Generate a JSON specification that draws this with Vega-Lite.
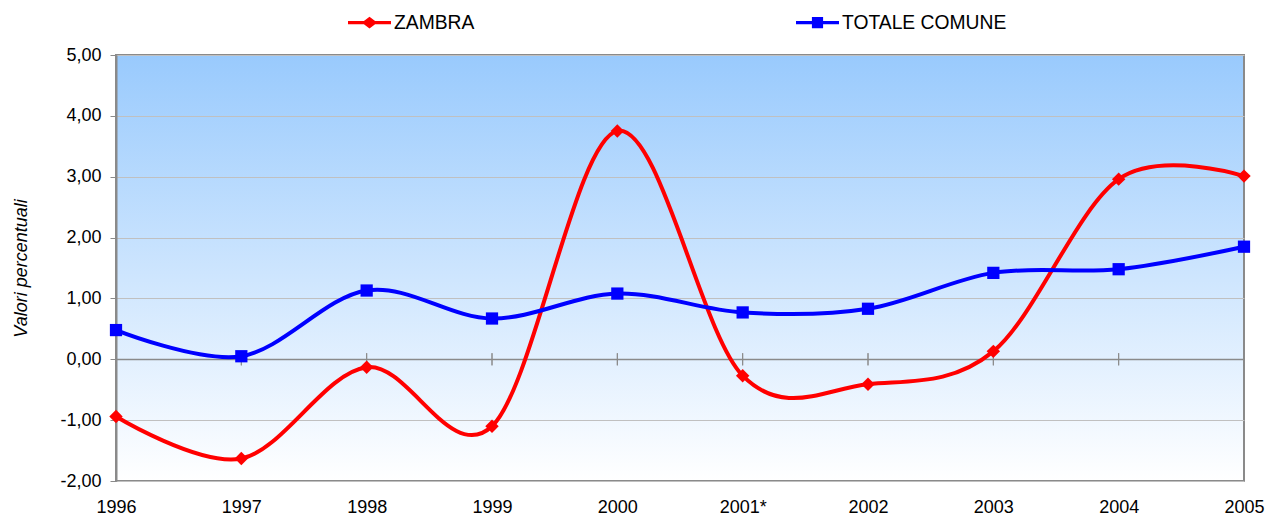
{
  "$schema": "https://vega.github.io/schema/vega-lite/v6.json",
  "autosize": {"type": "none"},
  "width": 1128,
  "height": 426,
  "padding": {"left": 116, "top": 55, "right": 25, "bottom": 36},
  "background": "white",
  "config": {
    "font": "Liberation Sans",
    "view": {
      "stroke": "#8a8a8a",
      "strokeWidth": 2,
      "fill": {
        "gradient": "linear",
        "x1": 0, "y1": 0, "x2": 0, "y2": 1,
        "stops": [
          {"offset": 0, "color": "#99CAFD"},
          {"offset": 1, "color": "#FFFFFF"}
        ]
      }
    }
  },
  "data": {
    "values": [
      {"year": "1996", "series": "ZAMBRA", "value": -0.94},
      {"year": "1997", "series": "ZAMBRA", "value": -1.63},
      {"year": "1998", "series": "ZAMBRA", "value": -0.13},
      {"year": "1999", "series": "ZAMBRA", "value": -1.10},
      {"year": "2000", "series": "ZAMBRA", "value": 3.75},
      {"year": "2001*", "series": "ZAMBRA", "value": -0.27},
      {"year": "2002", "series": "ZAMBRA", "value": -0.41},
      {"year": "2003", "series": "ZAMBRA", "value": 0.13},
      {"year": "2004", "series": "ZAMBRA", "value": 2.96},
      {"year": "2005", "series": "ZAMBRA", "value": 3.01},
      {"year": "1996", "series": "TOTALE COMUNE", "value": 0.48},
      {"year": "1997", "series": "TOTALE COMUNE", "value": 0.05},
      {"year": "1998", "series": "TOTALE COMUNE", "value": 1.13},
      {"year": "1999", "series": "TOTALE COMUNE", "value": 0.67},
      {"year": "2000", "series": "TOTALE COMUNE", "value": 1.08},
      {"year": "2001*", "series": "TOTALE COMUNE", "value": 0.77},
      {"year": "2002", "series": "TOTALE COMUNE", "value": 0.83},
      {"year": "2003", "series": "TOTALE COMUNE", "value": 1.42},
      {"year": "2004", "series": "TOTALE COMUNE", "value": 1.48},
      {"year": "2005", "series": "TOTALE COMUNE", "value": 1.85}
    ]
  },
  "encoding": {
    "x": {
      "field": "year",
      "type": "ordinal",
      "scale": {"type": "point", "padding": 0},
      "sort": null,
      "axis": {
        "title": null,
        "labelAngle": 0,
        "ticks": false,
        "domain": false,
        "labelPadding": 17,
        "labelFontSize": 18,
        "labelColor": "#000000",
        "labelFont": "Liberation Sans"
      }
    },
    "y": {
      "field": "value",
      "type": "quantitative",
      "scale": {"domain": [-2, 5], "nice": false, "zero": false},
      "axis": {
        "title": "Valori percentuali",
        "titleFontSize": 18,
        "titleFontStyle": "italic",
        "titleFontWeight": "normal",
        "titleColor": "#000000",
        "titleX": -95,
        "titleY": 213,
        "titleAngle": -90,
        "titleAlign": "center",
        "titleBaseline": "middle",
        "values": [-2, -1, 0, 1, 2, 3, 4, 5],
        "labelExpr": "replace(replace(format(datum.value, '.2f'), '.', ','), '\u2212', '-')",
        "labelFontSize": 18,
        "labelColor": "#000000",
        "labelPadding": 9,
        "tickSize": 6,
        "tickColor": "#8a8a8a",
        "domainColor": "#8a8a8a",
        "domainWidth": 2,
        "grid": true,
        "gridColor": {"condition": {"test": "datum.value === 0", "value": "#8a8a8a"}, "value": "#c0c0c0"},
        "gridWidth": {"condition": {"test": "datum.value === 0", "value": 1.5}, "value": 1}
      }
    }
  },
  "layer": [
    {
      "mark": {"type": "rule", "color": "#8a8a8a", "strokeWidth": 1},
      "encoding": {
        "y": {"datum": 0.1},
        "y2": {"datum": -0.1}
      }
    },
    {
      "mark": {"type": "line", "interpolate": "cardinal", "tension": 0, "strokeWidth": 4},
      "encoding": {
        "color": {
          "field": "series",
          "type": "nominal",
          "scale": {"domain": ["ZAMBRA", "TOTALE COMUNE"], "range": ["#FF0000", "#0000FF"]},
          "legend": {
            "title": null,
            "orient": "none",
            "legendX": 232,
            "legendY": -54,
            "direction": "horizontal",
            "columnPadding": 321,
            "symbolSize": 1849,
            "symbolStrokeWidth": 0,
            "symbolOffset": 0,
            "labelOffset": 3,
            "labelFontSize": 19.3,
            "labelColor": "#000000",
            "labelLimit": 400,
            "symbolType": "M -1 -0.08 H 1 V 0.08 H -1 Z",
            "encode": {
              "symbols": {
                "update": {
                  "shape": {"signal": "datum.value === 'ZAMBRA' ? 'M -1 -0.08 H -0.26 L 0 -0.27 L 0.26 -0.08 H 1 V 0.08 H 0.26 L 0 0.27 L -0.26 0.08 H -1 Z' : 'M -1 -0.08 H -0.26 V -0.26 H 0.26 V -0.08 H 1 V 0.08 H 0.26 V 0.26 H -0.26 V 0.08 H -1 Z'"},
                  "fill": {"signal": "datum.value === 'ZAMBRA' ? '#FF0000' : '#0000FF'"},
                  "fillOpacity": {"value": 1},
                  "strokeWidth": {"value": 0},
                  "opacity": {"value": 1}
                }
              }
            }
          }
        },
        "detail": {"field": "series"}
      }
    },
    {
      "transform": [{"filter": "datum.series === 'ZAMBRA'"}],
      "mark": {"type": "point", "filled": true, "opacity": 1, "strokeWidth": 0, "shape": "diamond", "size": 180},
      "encoding": {
        "color": {"field": "series", "type": "nominal"}
      }
    },
    {
      "transform": [{"filter": "datum.series === 'TOTALE COMUNE'"}],
      "mark": {"type": "point", "filled": true, "opacity": 1, "strokeWidth": 0, "shape": "square", "size": 150},
      "encoding": {
        "color": {"field": "series", "type": "nominal"}
      }
    }
  ]
}
